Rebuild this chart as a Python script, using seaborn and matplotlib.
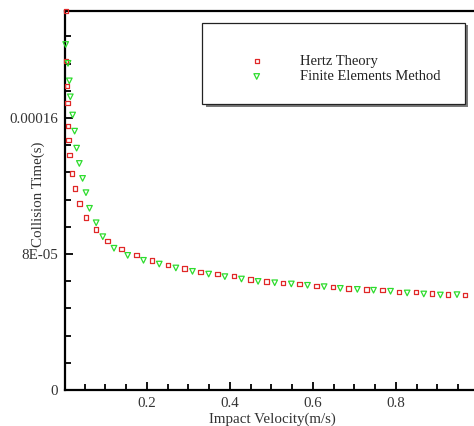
import numpy as np
import pandas as pd
import matplotlib
matplotlib.use("Agg")
import matplotlib.pyplot as plt
from matplotlib.patches import Rectangle
from matplotlib.ticker import MultipleLocator
import seaborn as sns

# Hertz theory (red squares)
hertz_v = [0.0055, 0.0055, 0.008, 0.0094, 0.0103, 0.0118, 0.0142, 0.020, 0.027, 0.038,
           0.054, 0.077, 0.105, 0.139, 0.175, 0.213, 0.251, 0.291, 0.329, 0.370,
           0.410, 0.450, 0.488, 0.528, 0.568, 0.609, 0.648, 0.686, 0.729, 0.768,
           0.808, 0.849, 0.887, 0.926, 0.967]
hertz_t = [2.231e-4, 1.937e-4, 1.788e-4, 1.690e-4, 1.555e-4, 1.471e-4, 1.382e-4, 1.275e-4, 1.186e-4, 1.098e-4,
           1.016e-4, 0.945e-4, 0.878e-4, 0.828e-4, 0.796e-4, 0.763e-4, 0.734e-4, 0.714e-4, 0.696e-4, 0.681e-4,
           0.669e-4, 0.651e-4, 0.639e-4, 0.629e-4, 0.625e-4, 0.612e-4, 0.606e-4, 0.598e-4, 0.592e-4, 0.587e-4,
           0.578e-4, 0.575e-4, 0.567e-4, 0.563e-4, 0.559e-4]

# Finite elements method (green triangles)
fem_v = [0.0046, 0.0103, 0.0134, 0.0158, 0.0214, 0.0262, 0.031, 0.0375, 0.0454, 0.0535,
         0.062, 0.078, 0.094, 0.121, 0.154, 0.192, 0.230, 0.270, 0.310, 0.349,
         0.388, 0.428, 0.468, 0.508, 0.548, 0.587, 0.627, 0.666, 0.707, 0.746,
         0.787, 0.827, 0.867, 0.907, 0.947]
fem_t = [2.033e-4, 1.922e-4, 1.819e-4, 1.725e-4, 1.618e-4, 1.523e-4, 1.423e-4, 1.333e-4, 1.245e-4, 1.161e-4,
         1.069e-4, 0.984e-4, 0.902e-4, 0.834e-4, 0.792e-4, 0.763e-4, 0.741e-4, 0.718e-4, 0.698e-4, 0.682e-4,
         0.667e-4, 0.653e-4, 0.639e-4, 0.631e-4, 0.624e-4, 0.616e-4, 0.608e-4, 0.598e-4, 0.592e-4, 0.587e-4,
         0.581e-4, 0.571e-4, 0.565e-4, 0.559e-4, 0.561e-4]

xticks = [0.2, 0.4, 0.6, 0.8, 1.0]
xtick_labels = ["0.2", "0.4", "0.6", "0.8", ""]   # the "1" falls outside the picture
yticks = [0, 8e-5, 1.6e-4]
ytick_labels = ["0", "8E-05", "0.00016"]

sns.set_theme(style="white")
plt.rcParams['font.family'] = ['Liberation Serif', 'DejaVu Serif']

W, H = 474, 426
fig = plt.figure(figsize=(W / 100, H / 100), dpi=100)
# axes run past the right edge of the picture, as in the original
ax = fig.add_axes([65 / W, 36 / H, 414 / W, 379 / H])

red = '#e02828'
green = '#2edc2e'

sns.scatterplot(x=hertz_v, y=hertz_t, marker='s', s=10, facecolor='none', edgecolor=red,
                linewidth=0.9, label='Hertz Theory', ax=ax, clip_on=False, zorder=3)
sns.scatterplot(x=fem_v, y=fem_t, marker='v', s=16, facecolor='none', edgecolor=green,
                linewidth=0.9, label='Finite Elements Method', ax=ax, clip_on=False, zorder=3)

ax.set_xlim(0.003, 1.0)
ax.set_ylim(0, 2.23e-4)

ax.set_xticks(xticks, labels=xtick_labels)
ax.set_yticks(yticks, labels=ytick_labels)
ax.xaxis.set_minor_locator(MultipleLocator(0.05))
ax.yaxis.set_minor_locator(MultipleLocator(1.6e-5))
ax.tick_params(which='both', direction='in', colors='black', labelcolor='#333333',
               labelsize=10.8, width=1.3)
ax.tick_params(which='major', length=6, pad=5)
ax.tick_params(which='minor', length=4)
ax.tick_params(axis='x', which='both', bottom=True, top=False)
ax.tick_params(axis='y', which='both', left=True, right=False)

for side in ['left', 'bottom', 'top', 'right']:
    ax.spines[side].set_color('black')
    ax.spines[side].set_linewidth(1.6)

ax.set_xlabel("Impact Velocity(m/s)", fontsize=10.8, color='#333333', labelpad=2)
ax.set_ylabel("Collision Time(s)", fontsize=10.8, color='#333333', va='center')
ax.yaxis.set_label_coords(-0.065, 0.517)

# legend box
ax.add_patch(Rectangle((206 / W, (H - 107) / H), 262 / W, 82 / H, transform=fig.transFigure,
                       facecolor='#7a7a7a', edgecolor='none', zorder=4, clip_on=False))
ax.add_patch(Rectangle((202 / W, (H - 104) / H), 263 / W, 81 / H, transform=fig.transFigure,
                       facecolor='white', edgecolor='#222222', linewidth=0.9, zorder=4, clip_on=False))
leg = ax.legend(loc='center left', bbox_to_anchor=(229 / W, (H - 69) / H),
                bbox_transform=fig.transFigure, frameon=False, fontsize=10.5,
                handletextpad=2.0, labelspacing=0.15, markerscale=1.0)
leg.set_zorder(5)
for t in leg.get_texts():
    t.set_color('#222222')

fig.savefig("out.png", dpi=100)
